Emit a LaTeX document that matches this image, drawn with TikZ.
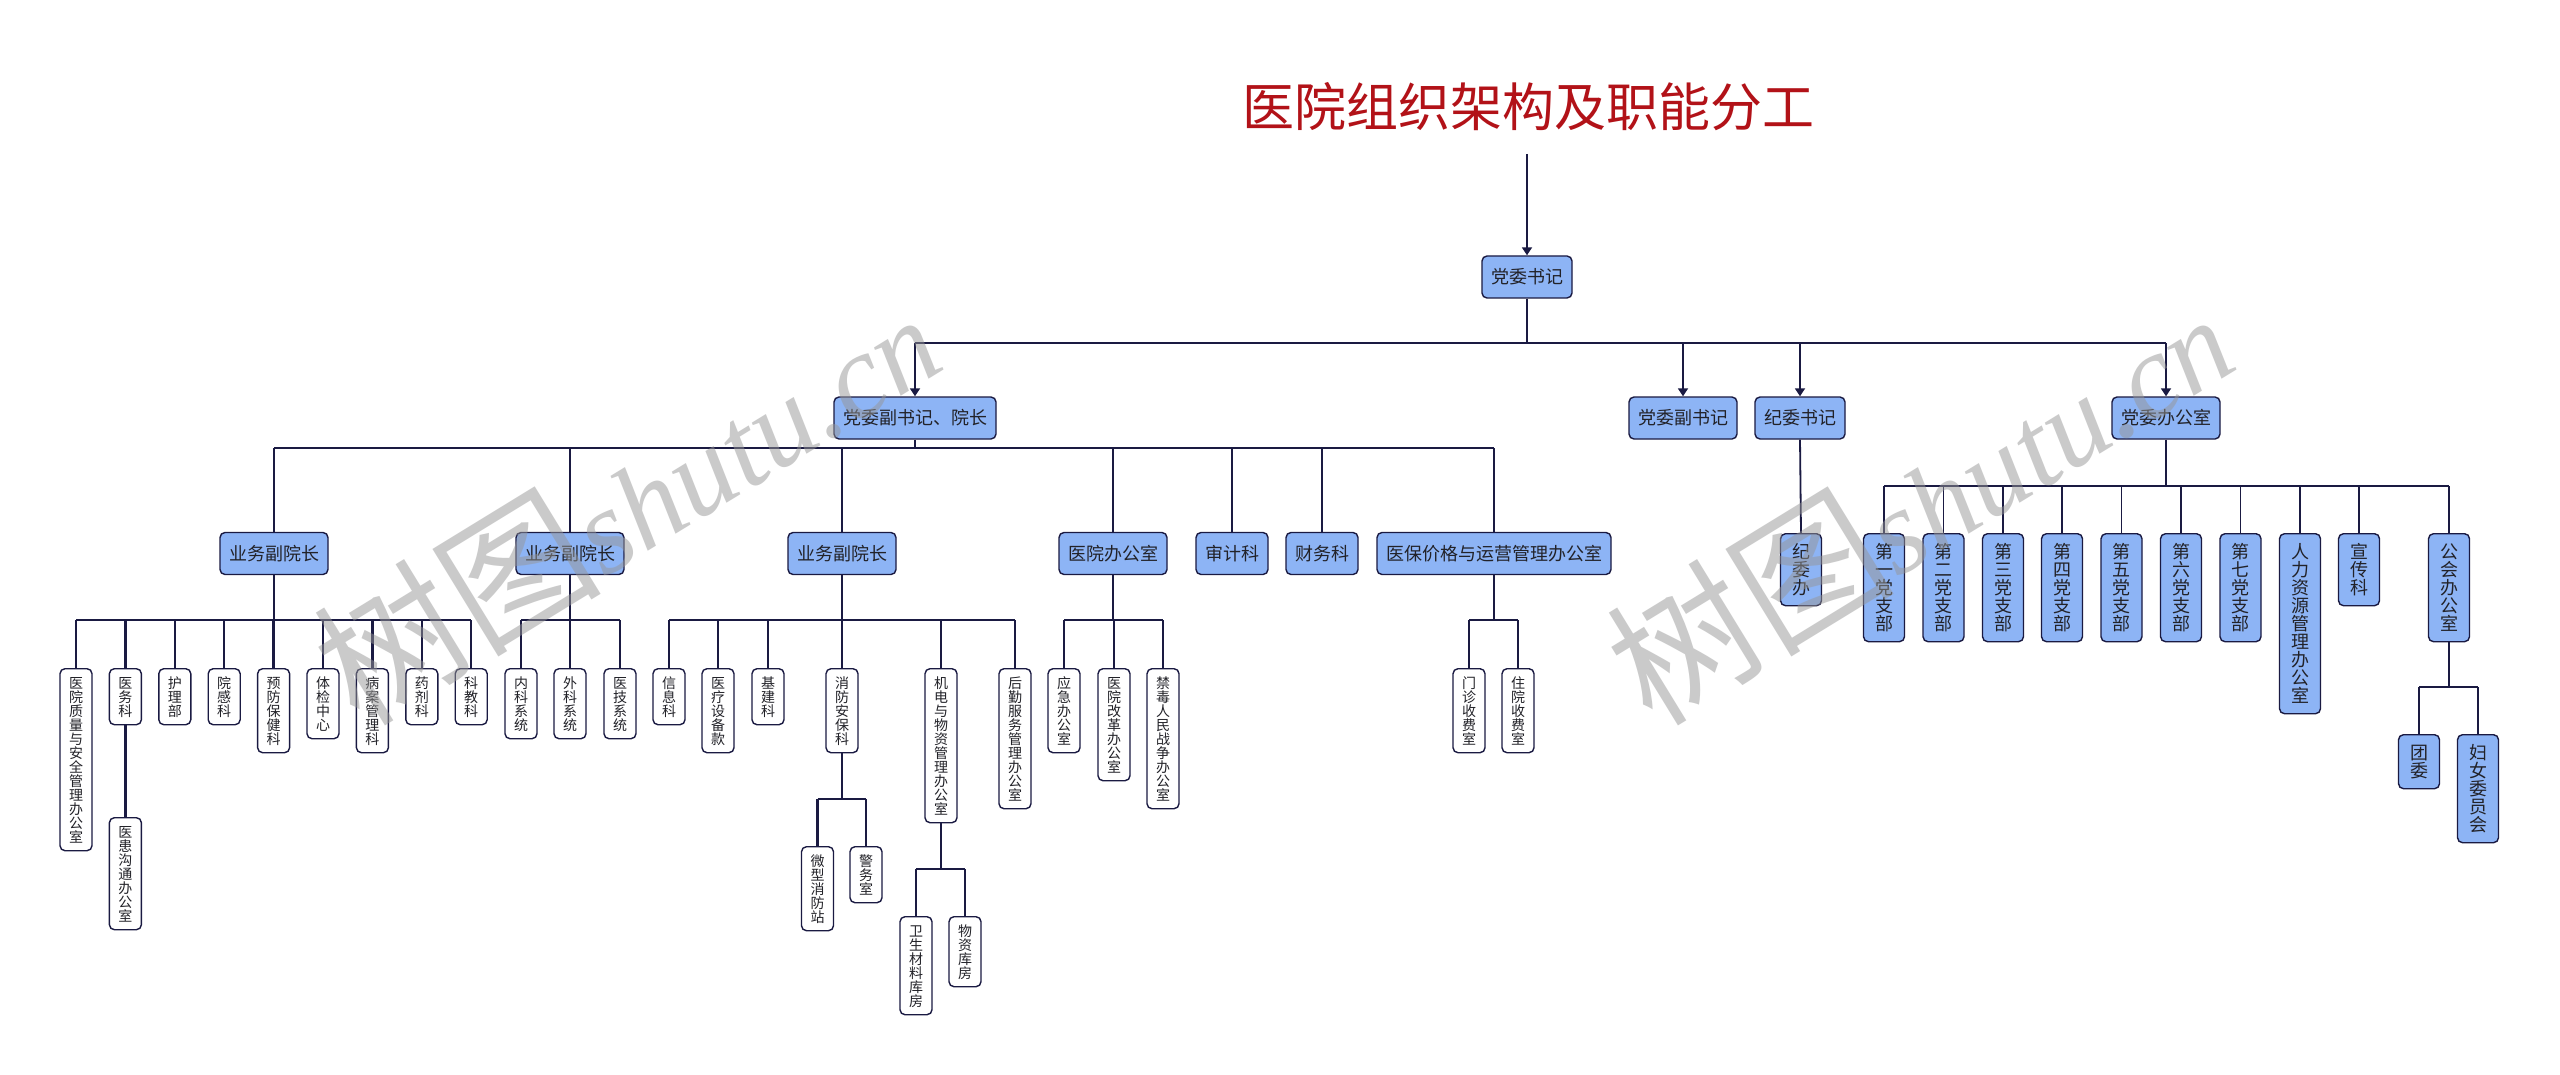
\documentclass[tikz,border=0pt]{standalone}
\usepackage{fontspec}
\newfontfamily\cjk{Noto Sans CJK SC}
\newfontfamily\wmser{Liberation Serif}
\usetikzlibrary{arrows.meta}
\definecolor{boxblue}{RGB}{141,180,245}
\definecolor{navy}{RGB}{26,26,66}
\definecolor{txt}{RGB}{34,34,40}
\definecolor{titlered}{RGB}{178,18,24}
\definecolor{wmgray}{RGB}{150,150,150}
\makeatletter
\def\vs{\rule[-0.12em]{0pt}{1em}}
\def\vt#1{\vt@first#1\vt@end}
\def\vt@first#1{\vs#1\vt@rest}
\def\vt@rest#1{\ifx#1\vt@end\else\\\vs#1\expandafter\vt@rest\fi}
\makeatother
\tikzset{
  hbox/.style={draw=navy, fill=boxblue, line width=0.7pt, rounded corners=2.5pt,
    inner xsep=4.5pt, inner ysep=0pt, minimum height=21pt,
    font=\cjk\fontsize{9}{9}\selectfont, text=txt},
  vwhite/.style={draw=navy, fill=white, line width=0.7pt, rounded corners=2.5pt,
    inner xsep=0pt, inner ysep=3.5pt, minimum width=16pt, align=center, anchor=north,
    font=\cjk\fontsize{7}{7}\selectfont, text=txt},
  vblue/.style={draw=navy, fill=boxblue, line width=0.7pt, rounded corners=2.5pt,
    inner xsep=0pt, inner ysep=4.5pt, minimum width=20.5pt, align=center, anchor=north,
    font=\cjk\fontsize{9}{9}\selectfont, text=txt},
  titlestyle/.style={font=\cjk\fontsize{26}{26}\selectfont, text=titlered, inner sep=0pt},
  lnA/.style={draw=navy, line width=0.9pt},
  lnB/.style={draw=navy, line width=1.25pt},
  arr/.style={lnA, -{Triangle[length=4pt,width=5pt]}},
  wmk/.style={text=wmgray, opacity=0.5, inner sep=0pt, rotate=31.5, anchor=base west}
}
\newcommand{\wmtext}{{\cjk\fontsize{72}{72}\selectfont 树图}{\wmser\itshape\fontsize{60}{60}\selectfont shutu.cn}}
\begin{document}
\begin{tikzpicture}[x=0.5pt, y=-0.5pt]
\useasboundingbox (0,0) rectangle (2560,1075);
\fill[white] (0,0) rectangle (2560,1075);

% title and top
\node[titlestyle] (title) at (1528,107) {医院组织架构及职能分工};
\node[hbox] (top) at (1527,277) {党委书记};
\coordinate (ta) at (1527,154);
\draw[arr] (ta) -- (top.north);

% level 2
\node[hbox] (l2a) at (915,418) {党委副书记、院长};
\node[hbox] (l2b) at (1683,418) {党委副书记};
\node[hbox] (l2c) at (1800,418) {纪委书记};
\node[hbox] (l2d) at (2166,418) {党委办公室};
\coordinate (b1) at (1527,343);
\draw[lnA] (top.south) -- (b1);
\draw[lnA] (b1 -| l2a) -- (b1 -| l2d);
\foreach \n in {l2a,l2b,l2c,l2d} {\draw[arr] (b1 -| \n) -- (\n.north);}

% level 3
\node[hbox] (m1) at (274,553.5) {业务副院长};
\node[hbox] (m2) at (570,553.5) {业务副院长};
\node[hbox] (m3) at (842,553.5) {业务副院长};
\node[hbox] (m4) at (1113,553.5) {医院办公室};
\node[hbox] (m5) at (1232,553.5) {审计科};
\node[hbox] (m6) at (1322,553.5) {财务科};
\node[hbox] (m7) at (1494,553.5) {医保价格与运营管理办公室};
\coordinate (b2) at (915,448);
\draw[lnA] (l2a.south) -- (b2);
\draw[lnA] (b2 -| m1) -- (b2 -| m7);
\foreach \n in {m1,m2,m3,m4,m5,m6,m7} {\draw[lnA] (b2 -| \n) -- (\n.north);}

% group m1
\node[vwhite] (a1) at (76,668) {\vt{医院质量与安全管理办公室}};
\node[vwhite] (a2) at (125.4,668) {\vt{医务科}};
\node[vwhite] (a3) at (174.8,668) {\vt{护理部}};
\node[vwhite] (a4) at (224.2,668) {\vt{院感科}};
\node[vwhite] (a5) at (273.6,668) {\vt{预防保健科}};
\node[vwhite] (a6) at (323,668) {\vt{体检中心}};
\node[vwhite] (a7) at (372.4,668) {\vt{病案管理科}};
\node[vwhite] (a8) at (421.8,668) {\vt{药剂科}};
\node[vwhite] (a9) at (471.2,668) {\vt{科教科}};
\node[vwhite] (a2b) at (125.4,817) {\vt{医患沟通办公室}};
\coordinate (bm1) at (274,620);
\draw[lnA] (m1.south) -- (bm1);
\draw[lnB] (bm1 -| a1) -- (bm1 -| a9);
\foreach \n in {a1,a2,a3,a4,a5,a6,a7,a8,a9} {\draw[lnB] (bm1 -| \n) -- (\n.north);}
\draw[lnB] (a2.south) -- (a2b.north);

% group m2
\node[vwhite] (e1) at (521,668) {\vt{内科系统}};
\node[vwhite] (e2) at (570,668) {\vt{外科系统}};
\node[vwhite] (e3) at (620,668) {\vt{医技系统}};
\coordinate (bm2) at (570,620);
\draw[lnA] (m2.south) -- (bm2);
\draw[lnB] (bm2 -| e1) -- (bm2 -| e3);
\foreach \n in {e1,e2,e3} {\draw[lnB] (bm2 -| \n) -- (\n.north);}

% group m3
\node[vwhite] (d1) at (669,668) {\vt{信息科}};
\node[vwhite] (d2) at (718,668) {\vt{医疗设备款}};
\node[vwhite] (d3) at (768,668) {\vt{基建科}};
\node[vwhite] (d4) at (842,668) {\vt{消防安保科}};
\node[vwhite] (d5) at (941,668) {\vt{机电与物资管理办公室}};
\node[vwhite] (d6) at (1015,668) {\vt{后勤服务管理办公室}};
\node[vwhite] (d4a) at (817.5,846) {\vt{微型消防站}};
\node[vwhite] (d4b) at (866,846) {\vt{警务室}};
\node[vwhite] (d5a) at (916,916) {\vt{卫生材料库房}};
\node[vwhite] (d5b) at (965,916) {\vt{物资库房}};
\coordinate (bm3) at (842,620);
\draw[lnA] (m3.south) -- (bm3);
\draw[lnB] (bm3 -| d1) -- (bm3 -| d6);
\foreach \n in {d1,d2,d3,d4,d5,d6} {\draw[lnB] (bm3 -| \n) -- (\n.north);}
\coordinate (bd4) at (842,799);
\draw[lnB] (d4.south) -- (bd4);
\draw[lnB] (bd4 -| d4a) -- (bd4 -| d4b);
\foreach \n in {d4a,d4b} {\draw[lnB] (bd4 -| \n) -- (\n.north);}
\coordinate (bd5) at (941,869);
\draw[lnB] (d5.south) -- (bd5);
\draw[lnB] (bd5 -| d5a) -- (bd5 -| d5b);
\foreach \n in {d5a,d5b} {\draw[lnB] (bd5 -| \n) -- (\n.north);}

% group m4
\node[vwhite] (f1) at (1064,668) {\vt{应急办公室}};
\node[vwhite] (f2) at (1114,668) {\vt{医院改革办公室}};
\node[vwhite] (f3) at (1163,668) {\vt{禁毒人民战争办公室}};
\coordinate (bm4) at (1113,620);
\draw[lnA] (m4.south) -- (bm4);
\draw[lnB] (bm4 -| f1) -- (bm4 -| f3);
\foreach \n in {f1,f2,f3} {\draw[lnB] (bm4 -| \n) -- (\n.north);}

% group m7
\node[vwhite] (g1) at (1469,668) {\vt{门诊收费室}};
\node[vwhite] (g2) at (1518,668) {\vt{住院收费室}};
\coordinate (bm7) at (1494,620);
\draw[lnA] (m7.south) -- (bm7);
\draw[lnB] (bm7 -| g1) -- (bm7 -| g2);
\foreach \n in {g1,g2} {\draw[lnB] (bm7 -| \n) -- (\n.north);}

% 纪委
\node[vblue] (jw) at (1801,533) {\vt{纪委办}};
\draw[lnA] (l2c.south) -- (jw.north);

% 党委办公室 group
\node[vblue] (r1) at (1884,533) {\vt{第一党支部}};
\node[vblue] (r2) at (1943.5,533) {\vt{第二党支部}};
\node[vblue] (r3) at (2003,533) {\vt{第三党支部}};
\node[vblue] (r4) at (2062,533) {\vt{第四党支部}};
\node[vblue] (r5) at (2121.5,533) {\vt{第五党支部}};
\node[vblue] (r6) at (2181,533) {\vt{第六党支部}};
\node[vblue] (r7) at (2240.5,533) {\vt{第七党支部}};
\node[vblue] (r8) at (2300,533) {\vt{人力资源管理办公室}};
\node[vblue] (r9) at (2359,533) {\vt{宣传科}};
\node[vblue] (r10) at (2449,533) {\vt{公会办公室}};
\node[vblue] (r10a) at (2419,734) {\vt{团委}};
\node[vblue] (r10b) at (2478,734) {\vt{妇女委员会}};
\coordinate (b3) at (2166,486);
\draw[lnA] (l2d.south) -- (b3);
\draw[lnB] (b3 -| r1) -- (b3 -| r10);
\foreach \n in {r1,r2,r3,r4,r5,r6,r7,r8,r9,r10} {\draw[lnA] (b3 -| \n) -- (\n.north);}
\coordinate (br10) at (2449,687);
\draw[lnA] (r10.south) -- (br10);
\draw[lnB] (br10 -| r10a) -- (br10 -| r10b);
\foreach \n in {r10a,r10b} {\draw[lnB] (br10 -| \n) -- (\n.north);}

% watermarks
\node[wmk] (wm1) at (359,729) {\wmtext};
\node[wmk] (wm2) at (1652,729) {\wmtext};
\end{tikzpicture}
\end{document}
